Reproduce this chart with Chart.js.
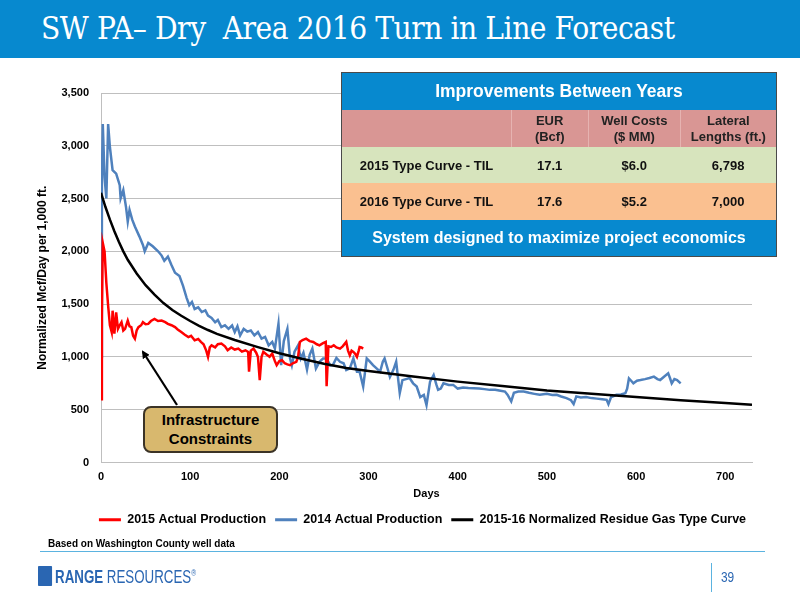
<!DOCTYPE html>
<html>
<head>
<meta charset="utf-8">
<script src="https://cdn.jsdelivr.net/npm/chart.js@4.4.1/dist/chart.umd.min.js"></script>
<style>
  body { margin: 0; width: 800px; height: 600px; position: relative; overflow: hidden; background: #fff; font-family: "Liberation Sans", Arial, sans-serif; }
  #titlebar { position: absolute; left: 0; top: 0; width: 800px; height: 58px; background: #0789cf; }
  #titlebar h1 { margin: 0; position: absolute; left: 41px; top: 10px; font: 400 31px "DejaVu Serif", Georgia, serif; color: #fff; white-space: pre; letter-spacing: -0.5px; transform: scaleX(0.91); transform-origin: 0 0; }
  #myChart { position: absolute; left: 0; top: 0; }
  #tbl { position: absolute; left: 341px; top: 72px; width: 436px; border-collapse: collapse; border: 1px solid #4a4a4a; font-weight: bold; text-align: center; }
  #tbl td { padding: 0; }
  .hdr td { background: #0789cf; color: #fff; font-size: 17.5px; height: 37px; }
  .pink td { background: #d99694; color: #222; font-size: 13px; height: 37px; line-height: 16px; border-left: 1px solid #e6b3b1; }
  .green td { background: #d7e4bd; color: #111; font-size: 13px; height: 36px; }
  .orange td { background: #fac090; color: #111; font-size: 13px; height: 37px; }
  .foot td { background: #0789cf; color: #fff; font-size: 16px; height: 36px; }
  #note { position: absolute; left: 143px; top: 406px; width: 131px; height: 41px; background: #d8b86e; border: 2px solid #3b3326; border-radius: 8px; font: bold 15px "Liberation Sans", Arial, sans-serif; text-align: center; line-height: 19px; padding-top: 2px; }
  #arrow { position: absolute; left: 0; top: 0; }
  #source { position: absolute; left: 48px; top: 538px; font: bold 10px "Liberation Sans", Arial, sans-serif; }
  #rule { position: absolute; left: 40px; top: 551px; width: 725px; height: 0; border-top: 1.5px solid #5bb3e0; }
  #logo { position: absolute; left: 38px; top: 566px; height: 24px; font: 18px "Liberation Sans", Arial, sans-serif; color: #2a66b2; white-space: nowrap; transform: scaleX(0.74); transform-origin: 0 0; }
  #logo .mark { display: inline-block; width: 19px; height: 20px; background: #2a66b2; vertical-align: -3px; margin-right: 4px; border-radius: 1px; }
  #logo b { font-weight: bold; }
  #logo sup { font-size: 9px; }
  #pgline { position: absolute; left: 711px; top: 563px; width: 0; height: 29px; border-left: 1px solid #5bb3e0; }
  #pg { position: absolute; left: 721px; top: 569px; font: 14px "Liberation Sans", Arial, sans-serif; color: #2a66b2; transform: scaleX(0.85); transform-origin: 0 0; }
</style>
</head>
<body>
<div id="titlebar"><h1>SW PA– Dry  Area 2016 Turn in Line Forecast</h1></div>
<canvas id="myChart" width="800" height="600"></canvas>

<table id="tbl">
  <tr class="hdr"><td colspan="4">Improvements Between Years</td></tr>
  <tr class="pink"><td style="width:171px;border-left:none"></td><td style="width:77px">EUR<br>(Bcf)</td><td style="width:92px">Well Costs<br>($ MM)</td><td style="width:96px">Lateral<br>Lengths (ft.)</td></tr>
  <tr class="green"><td>2015 Type Curve - TIL</td><td>17.1</td><td>$6.0</td><td>6,798</td></tr>
  <tr class="orange"><td>2016 Type Curve - TIL</td><td>17.6</td><td>$5.2</td><td>7,000</td></tr>
  <tr class="foot"><td colspan="4">System designed to maximize project economics</td></tr>
</table>

<svg id="arrow" width="800" height="600">
  <defs>
    <marker id="head" markerWidth="8" markerHeight="8" refX="6" refY="4" orient="auto" markerUnits="userSpaceOnUse">
      <path d="M0,0 L8,4 L0,8 z" fill="#000"/>
    </marker>
  </defs>
  <line x1="177" y1="405" x2="143" y2="352" stroke="#000" stroke-width="2.2" marker-end="url(#head)"/>
</svg>
<div id="note">Infrastructure<br>Constraints</div>

<div id="source">Based on Washington County well data</div>
<div id="rule"></div>
<div id="logo"><span class="mark"></span><b>RANGE</b> RESOURCES<sup>®</sup></div>
<div id="pgline"></div>
<div id="pg">39</div>

<script>
// 2015 actual production (red)
const days2015 = [0,1,2,4,6,8,10,12,13,15,17,19,21,23,25,27,30,32,34,36,38,40,42,45,47,50,53,56,60,64,68,72,75,79,83,86,90,94,98,101,105,109,112,115,118,120,122,124,128,131,135,139,142,146,150,154,158,162,165,166,168,171,174,176,178,180,182,186,189,192,195,197,200,203,206,209,212,215,219,221,223,226,230,234,238,242,245,249,252,253,255,258,261,264,268,271,275,277,279,281,283,285,287,289,290,292,294];
const prod2015 = [600,1400,2080,2000,1700,1485,1300,1235,1438,1220,1423,1266,1300,1329,1250,1266,1344,1290,1282,1200,1173,1250,1282,1300,1329,1310,1313,1340,1360,1340,1344,1330,1313,1300,1282,1260,1235,1210,1188,1200,1157,1170,1142,1120,1060,1001,1090,1110,1090,1120,1126,1100,1063,1090,1070,1079,1050,1063,1048,860,1060,1079,1040,1000,781,1000,1048,1020,1001,1032,960,922,960,969,940,930,922,940,954,1000,1142,1160,1173,1150,1142,1120,1110,1130,1142,722,1100,1094,1110,1090,1079,1100,1142,1060,1016,1060,1048,1030,1001,1060,1094,1090,1079];

// 2014 actual production (blue)
const days2014 = [0,1,2,4,6,8,10,13,17,21,22,25,28,30,32,35,38,43,47,49,53,58,64,68,71,75,79,83,88,92,96,99,102,105,109,113,117,120,124,128,131,135,139,143,147,150,153,156,160,164,168,172,176,180,184,188,192,195,199,202,205,209,212,214,217,221,224,227,231,234,237,241,245,249,253,257,260,264,268,272,275,279,283,287,290,294,298,301,305,309,313,316,318,321,324,328,331,335,338,342,346,350,354,358,362,365,369,373,376,378,381,384,390,395,400,406,412,418,424,430,436,442,448,453,456,460,463,468,474,480,486,492,500,506,511,516,522,527,530,533,538,544,550,556,562,567,569,572,575,578,583,588,590,592,595,597,601,605,610,615,620,624,627,631,636,638,640,643,646,650];
const prod2014 = [1000,2700,3205,2700,2502,3205,2986,2770,2736,2627,2502,2580,2423,2283,2392,2300,2236,2142,2060,2001,2080,2048,2001,1960,1910,1950,1870,1798,1767,1673,1560,1490,1520,1454,1470,1425,1440,1391,1370,1329,1350,1282,1300,1266,1298,1235,1290,1204,1266,1240,1250,1204,1236,1173,1190,1110,1142,1079,1313,922,1150,1266,985,922,1050,1110,985,1040,880,1020,1079,891,954,985,985,920,922,990,954,940,875,891,985,860,860,720,985,960,922,891,860,954,985,900,810,880,955,657,780,790,800,750,720,620,640,544,766,828,740,688,700,750,735,735,700,710,705,703,700,695,688,690,680,672,640,579,660,672,672,660,650,641,650,640,641,625,610,590,553,626,615,620,610,605,600,594,553,620,630,641,645,657,700,797,770,750,775,781,790,800,813,790,781,810,844,800,750,790,781,750];

// 2015-16 normalized residue gas type curve (black)
const daysType = [0,5,10,15,20,25,30,40,50,60,70,80,90,100,110,120,130,150,175,200,225,250,275,300,350,400,450,500,550,600,650,700,730];
const typeCurve = [2555,2420,2300,2190,2090,2000,1920,1790,1680,1590,1510,1445,1390,1340,1295,1255,1218,1160,1095,1035,983,935,895,866,815,766,724,683,652,620,590,563,547];

const seriesNames = ['2015 Actual Production', '2014 Actual Production', '2015-16 Normalized Residue Gas Type Curve'];

function toPoints(xs, ys) {
  return xs.map((x, i) => ({ x: x, y: ys[i] }));
}

const sans = '"Liberation Sans", Arial, sans-serif';

var ctx = document.getElementById('myChart').getContext('2d');
let myChart = new Chart(ctx, {
  type: 'line',
  data: {
    datasets: [{
      label: seriesNames[0],
      data: toPoints(days2015, prod2015),
      borderColor: '#ff0000',
      backgroundColor: '#ff0000',
      borderWidth: 2.5,
      order: 1
    }, {
      label: seriesNames[1],
      data: toPoints(days2014, prod2014),
      borderColor: '#4f81bd',
      backgroundColor: '#4f81bd',
      borderWidth: 2.5,
      order: 2
    }, {
      label: seriesNames[2],
      data: toPoints(daysType, typeCurve),
      borderColor: '#000000',
      backgroundColor: '#000000',
      borderWidth: 2.5,
      order: 0
    }]
  },
  options: {
    responsive: false,
    animation: false,
    elements: {
      point: { radius: 0 },
      line: { tension: 0, fill: false }
    },
    layout: {
      padding: { left: 31, right: 48, top: 93, bottom: 64 }
    },
    scales: {
      x: {
        type: 'linear',
        min: 0,
        max: 730,
        grid: { display: false },
        border: { display: true, color: '#bfbfbf', width: 1 },
        ticks: {
          stepSize: 100,
          includeBounds: false,
          padding: 0,
          color: '#000',
          font: { family: sans, size: 11, weight: 'bold' }
        },
        title: {
          display: true,
          text: 'Days',
          color: '#000',
          font: { family: sans, size: 11, weight: 'bold' }
        },
        afterFit: (scale) => { scale.height = 42; }
      },
      y: {
        type: 'linear',
        min: 0,
        max: 3500,
        grid: { color: '#bfbfbf', lineWidth: 1, drawTicks: false },
        border: { display: true, color: '#bfbfbf', width: 1 },
        ticks: {
          stepSize: 500,
          padding: 12,
          color: '#000',
          font: { family: sans, size: 11, weight: 'bold' },
          callback: (v) => v.toLocaleString('en-US')
        },
        title: {
          display: true,
          text: 'Normalized Mcf/Day per 1,000 ft.',
          color: '#000',
          font: { family: sans, size: 12, weight: 'bold' }
        },
        afterFit: (scale) => { scale.width = 70; }
      }
    },
    plugins: {
      tooltip: { enabled: false },
      legend: {
        position: 'bottom',
        labels: {
          boxWidth: 22,
          boxHeight: 3,
          padding: 9,
          color: '#000',
          font: { family: sans, size: 12.5, weight: 'bold' },
          sort: (a, b) => a.datasetIndex - b.datasetIndex,
          generateLabels: (chart) => {
            let items = Chart.defaults.plugins.legend.labels.generateLabels(chart);
            items.forEach(it => { it.lineWidth = 0; it.fillStyle = it.strokeStyle; });
            return items;
          }
        }
      }
    }
  },
  plugins: [{
    // centre the legend under the plot area rather than the whole canvas
    afterLayout: (chart) => {
      let lg = chart.legend;
      let area = chart.chartArea;
      let shift = ((area.left + area.right) - (lg.left + lg.right)) / 2 - 4;
      lg.left += shift;
      lg.right += shift;
    }
  }]
});
</script>
</body>
</html>
